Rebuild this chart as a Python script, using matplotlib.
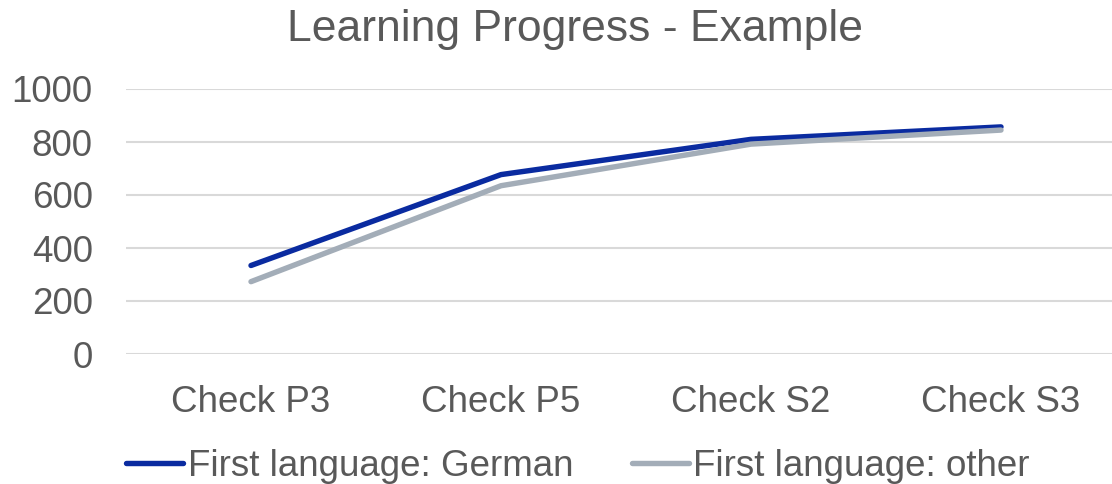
import matplotlib
matplotlib.use("Agg")
import matplotlib.pyplot as plt

categories = ["Check P3", "Check P5", "Check S2", "Check S3"]
german = [334, 677, 810, 857]
other = [273, 635, 792, 845]
yticks = [0, 200, 400, 600, 800, 1000]
title = "Learning Progress - Example"
series_names = ["First language: German", "First language: other"]

plt.rcParams['font.family'] = ['Liberation Sans', 'DejaVu Sans']
TXT = "#595959"
FS = 26.5

fig = plt.figure(figsize=(11.12, 4.84), dpi=100)
W, H = 1112, 484
left, right = 126, 1126
bottom, top = 354, 89
ax = fig.add_axes([left / W, 1 - bottom / H, (right - left) / W, (bottom - top) / H])

x = list(range(len(categories)))
ax.plot(x, german, color="#0A2BA0", lw=3.9, solid_capstyle="round", label=series_names[0], zorder=3)
ax.plot(x, other, color="#A3ADB8", lw=3.9, solid_capstyle="round", label=series_names[1], zorder=3)

ax.set_xlim(-0.5, len(categories) - 0.5)
ax.set_ylim(0, 1000)
ax.set_yticks(yticks)
ax.set_yticklabels([str(v) for v in yticks])
ax.set_xticks(x)
ax.set_xticklabels(categories)
ax.grid(axis="y", color="#D9D9D9", lw=1.5, zorder=0)
ax.set_axisbelow(True)
for s in ax.spines.values():
    s.set_visible(False)
ax.tick_params(axis="both", length=0, labelsize=FS, labelcolor=TXT)
ax.tick_params(axis="y", pad=24)
ax.tick_params(axis="x", pad=22)
for lbl in ax.get_yticklabels():
    lbl.set_verticalalignment("center_baseline")

fig.text(575 / W, 1 - 30 / H, title, ha="center", va="center", fontsize=32, color=TXT)

leg = fig.legend(loc="center", bbox_to_anchor=(578 / W, 1 - 466 / H), ncol=2, frameon=False,
                 fontsize=FS, handlelength=1.55, handletextpad=0.12, columnspacing=1.6,
                 borderpad=0, borderaxespad=0)
for t in leg.get_texts():
    t.set_color(TXT)

fig.savefig("out.png", dpi=100)
